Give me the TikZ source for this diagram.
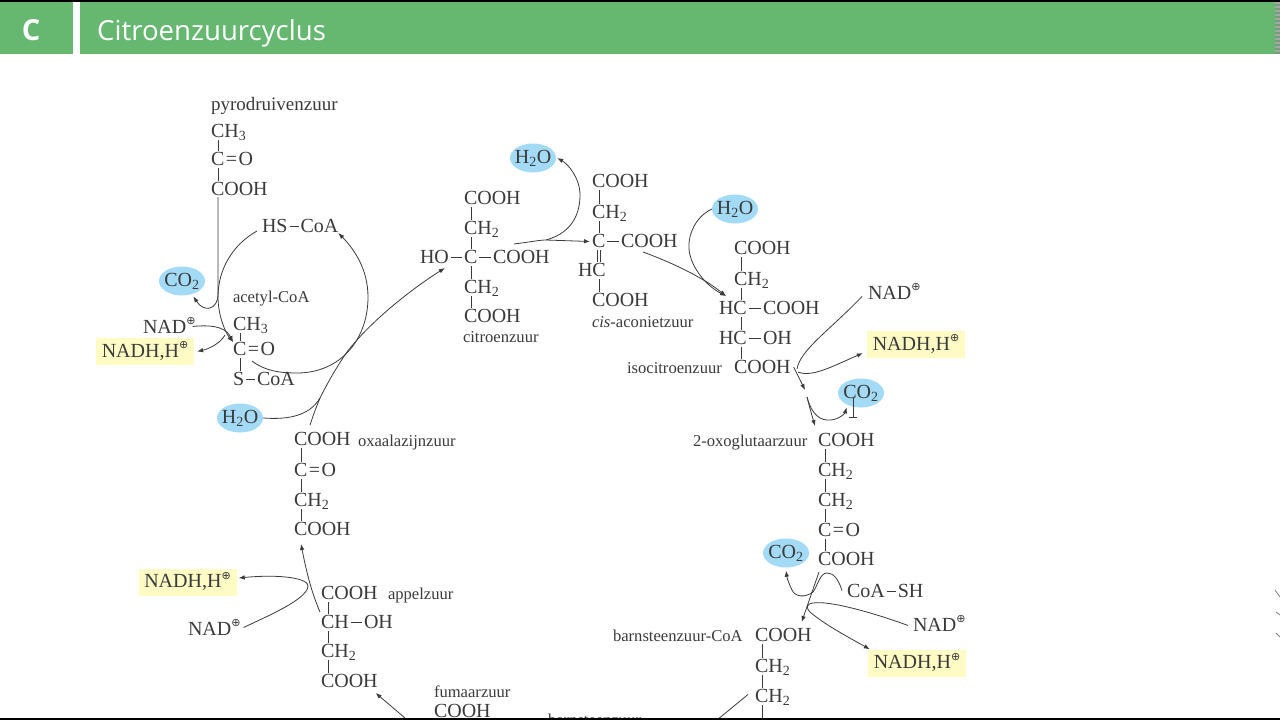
\documentclass[tikz,border=0pt]{standalone}
\usepackage{amsmath,amssymb}
\usepackage{fontspec}
\setmainfont{Liberation Serif}
\newfontfamily\titlefont{Open Sans}
\newfontfamily\symbfont{DejaVu Sans}
\usepackage{xcolor}
\usetikzlibrary{shapes,arrows,arrows.meta,fit,positioning}

\definecolor{headgreen}{HTML}{66B871}
\definecolor{bubbleblue}{HTML}{A3DAF6}
\definecolor{boxyellow}{HTML}{FFFBC4}
\definecolor{inkgray}{HTML}{3A3A3A}
\newcommand{\bd}{\kern2pt\rule[5.5pt]{9pt}{0.7pt}\kern2pt}
\newcommand{\dbl}{\kern1.5pt=\kern1.5pt}
\newcommand{\plus}{\raisebox{8.5pt}{\symbfont\fontsize{11}{11}\selectfont ⊕}}

\begin{document}
\begin{tikzpicture}[x=1pt, y=-1pt, every node/.style={text=inkgray},
    % Styles for the formula lines, names and the coloured products
    chem/.style={font=\fontsize{20}{20}\selectfont, text height=13pt, text depth=2pt, inner sep=0pt, outer sep=0pt, anchor=base west},
    molname/.style={font=\fontsize{16.6}{17}\selectfont, inner sep=0pt, outer sep=0pt, anchor=base west},
    bubble/.style={ellipse, fill=bubbleblue, minimum width=46pt, minimum height=29pt, inner xsep=-4pt, inner ysep=0pt, font=\fontsize{20}{20}\selectfont},
    yellowbox/.style={rectangle, fill=boxyellow, minimum width=98pt, minimum height=27pt, inner sep=0pt, text height=13pt, text depth=2pt, font=\fontsize{20}{20}\selectfont},
    bond/.style={draw=inkgray, line width=0.8pt, shorten <=1pt, shorten >=1pt},
    line/.style={draw=inkgray, -{Latex[length=6pt,width=4.5pt]}, line width=0.8pt},
    plainline/.style={draw=inkgray, line width=0.8pt}]

    \useasboundingbox (0,0) rectangle (1280,720);

    % Header bar
    \fill [black] (0,0) rectangle (1280,2);
    \fill [headgreen] (0,2) rectangle (73,54);
    \fill [headgreen] (80,2) rectangle (1275,54);
    \foreach \y in {2,6,...,50} {
        \fill [gray!70] (1275,\y) rectangle (1280,\y+2);
        \fill [gray!40!headgreen] (1275,\y+2) rectangle (1280,\y+4);
    }
    \node [font=\titlefont\bfseries\fontsize{29}{29}\selectfont, text=white] (hdletter) at (31,30) {C};
    \node [font=\titlefont\fontsize{27.6}{28}\selectfont, text=white, anchor=base west, inner sep=0pt] (hdtitle) at (97,40) {Citroenzuurcyclus};

    % Pyrodruivenzuur
    \node [molname, font=\fontsize{19}{19}\selectfont] (pname) at (211,110) {pyrodruivenzuur};
    \node [chem] (py1) at (211,137) {CH\textsubscript{3}};
    \node [chem, below right=13pt and 0pt of py1.south west] (py2) {C\dbl O};
    \node [chem, below right=15pt and 0pt of py2.south west] (py3) {COOH};
    \node [bubble] (coa) at (182,281) {CO\textsubscript{2}};

    % Acetyl-CoA
    \node [chem] (hscoa) at (262,232) {HS\bd CoA};
    \node [molname] (acname) at (233,302) {acetyl-CoA};
    \node [chem] (ac1) at (233,330) {CH\textsubscript{3}};
    \node [chem, below right=10pt and 0pt of ac1.south west] (ac2) {C\dbl O};
    \node [chem, below right=15pt and 0pt of ac2.south west] (ac3) {S\bd CoA};
    \node [chem] (nada) at (143,333) {NAD\plus};
    \node [yellowbox] (nadha) at (145,351.5) {NADH,H\plus};
    \node [bubble] (hob) at (240,418) {H\textsubscript{2}O};

    % Citroenzuur
    \node [chem] (cit1) at (464,204) {COOH};
    \node [chem, below right=15pt and 0pt of cit1.south west] (cit2) {CH\textsubscript{2}};
    \node [chem] (cit3) at (464,263) {C};
    \node [chem] (citho) at (420,263) {HO};
    \node [chem] (citcooh) at (493,263) {COOH};
    \node [chem, below right=15pt and 0pt of cit3.south west] (cit4) {CH\textsubscript{2}};
    \node [chem, below right=14pt and 0pt of cit4.south west] (cit5) {COOH};
    \node [molname] (citname) at (463,342) {citroenzuur};
    \node [bubble] (hoc) at (533,158) {H\textsubscript{2}O};

    % cis-Aconietzuur
    \node [chem] (aco1) at (592,187) {COOH};
    \node [chem, below right=16pt and 0pt of aco1.south west] (aco2) {CH\textsubscript{2}};
    \node [chem] (aco3) at (592,247) {C};
    \node [chem] (acocooh) at (621,247) {COOH};
    \node [chem] (aco4) at (578,276) {HC};
    \node [chem] (aco5) at (592,306) {COOH};
    \node [molname] (aconame) at (592,327) {\textit{cis}-aconietzuur};
    \node [bubble] (hod) at (735,209) {H\textsubscript{2}O};

    % Isocitroenzuur
    \node [chem] (iso1) at (734,254) {COOH};
    \node [chem, below right=16pt and 0pt of iso1.south west] (iso2) {CH\textsubscript{2}};
    \node [chem] (iso3) at (719,314) {HC};
    \node [chem] (isocooh) at (763,314) {COOH};
    \node [chem] (iso4) at (719,344) {HC};
    \node [chem] (isooh) at (763,344) {OH};
    \node [chem] (iso5) at (734,373) {COOH};
    \node [molname] (isoname) at (627,373) {isocitroenzuur};
    \node [chem] (nadb) at (868,299) {NAD\plus};
    \node [yellowbox] (nadhb) at (916,344.5) {NADH,H\plus};
    \node [bubble] (cob) at (861,393) {CO\textsubscript{2}};

    % 2-Oxoglutaarzuur
    \node [molname] (oxname) at (693,446) {2-oxoglutaarzuur};
    \node [chem] (ox1) at (818,446) {COOH};
    \node [chem, below right=15pt and 0pt of ox1.south west] (ox2) {CH\textsubscript{2}};
    \node [chem, below right=15pt and 0pt of ox2.south west] (ox3) {CH\textsubscript{2}};
    \node [chem, below right=15pt and 0pt of ox3.south west] (ox4) {C\dbl O};
    \node [chem, below right=14pt and 0pt of ox4.south west] (ox5) {COOH};
    \node [bubble] (coc) at (786,553) {CO\textsubscript{2}};
    \node [chem] (coash) at (847,597) {CoA\bd SH};
    \node [chem] (nadc) at (913,631) {NAD\plus};
    \node [yellowbox] (nadhc) at (917,663) {NADH,H\plus};

    % Barnsteenzuur-CoA
    \node [molname] (suname) at (613,641) {barnsteenzuur-CoA};
    \node [chem] (su1) at (755,641) {COOH};
    \node [chem, below right=16pt and 0pt of su1.south west] (su2) {CH\textsubscript{2}};
    \node [chem, below right=15pt and 0pt of su2.south west] (su3) {CH\textsubscript{2}};
    \coordinate (suend) at (762,720);
    \coordinate (sufree) at (717,720);

    % Oxaalazijnzuur
    \node [chem] (oa1) at (294,445) {COOH};
    \node [molname] (oaname) at (358,446) {oxaalazijnzuur};
    \node [chem, below right=16pt and 0pt of oa1.south west] (oa2) {C\dbl O};
    \node [chem, below right=15pt and 0pt of oa2.south west] (oa3) {CH\textsubscript{2}};
    \node [chem, below right=14pt and 0pt of oa3.south west] (oa4) {COOH};

    % Appelzuur
    \node [chem] (ma1) at (321,599) {COOH};
    \node [molname] (maname) at (388,599) {appelzuur};
    \node [chem, below right=14pt and 0pt of ma1.south west] (ma2) {CH};
    \node [chem] (maoh) at (364,628) {OH};
    \node [chem, below right=14pt and 0pt of ma2.south west] (ma3) {CH\textsubscript{2}};
    \node [chem, below right=15pt and 0pt of ma3.south west] (ma4) {COOH};
    \node [yellowbox] (nadhd) at (187.5,582) {NADH,H\plus};
    \node [chem] (nadd) at (188,635) {NAD\plus};

    % Fumaarzuur en barnsteenzuur
    \node [molname] (funame) at (434,697) {fumaarzuur};
    \node [chem] (fu1) at (434,717) {COOH};
    \node [molname] (bsname) at (548,725) {barnsteenzuur};

    % Bonds inside the formulas
    \foreach \a/\b in {py1/py2, py2/py3, ac1/ac2, ac2/ac3, cit1/cit2, cit2/cit3, cit3/cit4, cit4/cit5,
        aco1/aco2, aco2/aco3, iso1/iso2, ox1/ox2, ox2/ox3, ox3/ox4, ox4/ox5, su1/su2, su2/su3,
        oa1/oa2, oa2/oa3, oa3/oa4, ma1/ma2, ma2/ma3, ma3/ma4}
        \draw [bond] ([xshift=7pt]\a.south west) -- ([xshift=7pt]\b.north west);
    \draw [bond] ([xshift=7pt]su3.south west) -- (suend);
    \draw [bond] ([xshift=7pt]iso2.south west) -- ([xshift=22pt]iso3.north west);
    \draw [bond] ([xshift=22pt]iso3.south west) -- ([xshift=22pt]iso4.north west);
    \draw [bond] ([xshift=22pt]iso4.south west) -- ([xshift=7pt]iso5.north west);
    \draw [bond] ([xshift=21pt]aco4.south west) -- ([xshift=7pt]aco5.north west);
    \draw [bond] ([xshift=5.5pt]aco3.south west) -- ([xshift=19.5pt]aco4.north west);
    \draw [bond] ([xshift=8.5pt]aco3.south west) -- ([xshift=22.5pt]aco4.north west);
    \foreach \a/\b in {citho/cit3, cit3/citcooh, aco3/acocooh, iso3/isocooh, iso4/isooh, ma2/maoh}
        \draw [bond] ([xshift=1pt,yshift=6pt]\a.base east) -- ([xshift=-1pt,yshift=6pt]\b.base west);

    % Edges (Flow)
    % Pyrodruivenzuur to acetyl-CoA
    \path [line] ([xshift=7pt]py3.south west) -- ++(0,97) .. controls +(0,16) and (204,313) .. ([shift={(-5,5)}]coa.south east);
    \path [line] ([shift={(-5,-3)}]hscoa.south west) .. controls (232,245) and (218,270) .. (218,297) .. controls (218,315) and (225,332) .. (ac2.north west);
    \path [line] ([shift={(19,4)}]ac2.south west) .. controls (265,371) and (280,373) .. (297,373) .. controls (340,373) and (368,340) .. (368,297) .. controls (368,270) and (355,250) .. ([yshift=1pt]hscoa.south east);
    \path [line] ([shift={(-3,-1)}]nada.east) .. controls (206,325) and (225,325) .. (ac2.north west);
    \path [line] ([shift={(-8,-7)}]ac2.north west) .. controls (220,344) and (208,349) .. ([xshift=3pt]nadha.east);

    % Oxaalazijnzuur and water to citroenzuur
    \coordinate (oajoin) at (320,398);
    \path [plainline] (hob.east) .. controls (290,420) and (310,415) .. (oajoin);
    \path [line] ([shift={(16,-7)}]oa1.north west) .. controls (314,413) .. (oajoin) .. controls (330,378) and (340,362) .. (347,352) .. controls (370,322) and (410,290) .. ([shift={(-4,3)}]citho.south east);

    % Citroenzuur to cis-aconietzuur
    \coordinate (citjoin) at (546,240);
    \path [line] ([shift={(21,-6)}]citcooh.north west) .. controls (530,242) and (540,240) .. (citjoin) -- ([xshift=-2pt]aco3.west);
    \path [line] (citjoin) .. controls (575,232) and (580,210) .. (580,195) .. controls (580,178) and (568,164) .. ([xshift=1pt]hoc.east);

    % cis-Aconietzuur to isocitroenzuur
    \path [line] ([shift={(22,3)}]acocooh.south west) .. controls (665,260) and (700,275) .. ([shift={(7,-5)}]iso3.north west);
    \path [line] (hod.west) .. controls (693,218) and (686,240) .. (690,255) .. controls (693,268) and (705,285) .. ([shift={(7,-5)}]iso3.north west);

    % Isocitroenzuur to 2-oxoglutaarzuur
    \coordinate (isojoin) at (797,369);
    \coordinate (oxjoin) at (807,397);
    \path [line] ([shift={(3,-8)}]iso5.south east) -- (805,390);
    \path [plainline] ([shift={(-6,3)}]nadb.west) .. controls (830,330) and (800,350) .. (isojoin);
    \path [line] ([xshift=1pt,yshift=-3pt]isojoin) .. controls (812,378) and (835,365) .. ([shift={(-4,-5)}]nadhb.south west);
    \path [line] (oxjoin) .. controls (809,405) .. ([shift={(-3,-7)}]ox1.north west);
    \path [line] (oxjoin) .. controls (812,415) and (820,421) .. (831,420) .. controls (840,419) and (845,413) .. ([shift={(2,4)}]cob.south west);

    % 2-Oxoglutaarzuur to barnsteenzuur-CoA
    \path [line] ([shift={(1,5)}]ox5.south west) -- ([shift={(-10,-6)}]su1.north east);
    \path [line] ([shift={(-5,-1)}]coash.west) .. controls (838,578) and (833,573) .. (827,573) .. controls (820,573) and (818,585) .. (813,592) .. controls (805,598) and (795,597) .. (792,590) .. controls (789,584) and (787,578) .. ([yshift=-3pt]coc.south);
    \path [line] ([xshift=-5pt]nadc.west) .. controls (880,615) and (830,600) .. (813,603) .. controls (806,604) and (806,608) .. (810,612) .. controls (825,625) and (850,638) .. ([xshift=2pt]nadhc.north west);

    % Appelzuur to oxaalazijnzuur
    \path [line] ([shift={(-1,-3)}]ma2.north west) .. controls (315,600) and (309,585) .. ([shift={(7,7)}]oa4.south west);
    \path [line] ([shift={(3,-2)}]nadd.east) .. controls (270,615) and (305,600) .. (308,587) .. controls (310,578) and (280,574) .. ([shift={(2,-4)}]nadhd.east);

    % Fumaarzuur to appelzuur, and barnsteenzuur-CoA onwards
    \path [line] ([shift={(-29,14)}]fu1.north west) -- ([shift={(-2,4)}]ma4.south east);
    \path [plainline] ([shift={(-7,-2)}]su3.west) -- (sufree);

    % Mouse pointer
    \draw [plainline] (853,398) -- (853,417) (849,417) -- (857,417);

    % Edge of the next slide
    \draw [plainline, gray] (1275,590) -- (1280,597) (1276,612) -- (1280,615) (1276,633) -- (1280,637);

    % Bottom bar
    \fill [black] (0,718) rectangle (1280,720);

\end{tikzpicture}
\end{document}
